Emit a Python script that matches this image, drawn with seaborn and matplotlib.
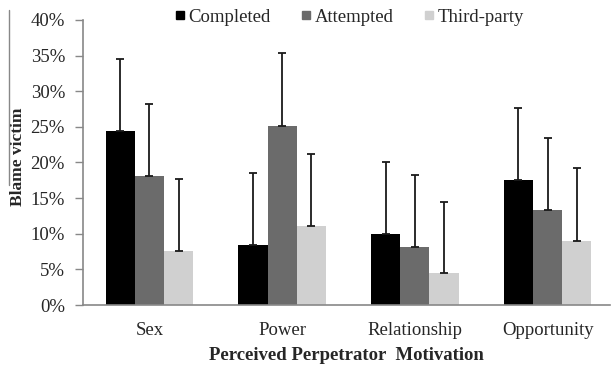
import matplotlib
matplotlib.use("Agg")
import matplotlib.pyplot as plt
import seaborn as sns
import pandas as pd
import numpy as np
from matplotlib.lines import Line2D
from matplotlib.ticker import PercentFormatter, FixedLocator

categories = ["Sex", "Power", "Relationship", "Opportunity"]
series = ["Completed", "Attempted", "Third-party"]
completed = [24.4, 8.4, 10.0, 17.5]
attempted = [18.1, 25.1, 8.1, 13.3]
third_party = [7.6, 11.1, 4.5, 9.0]
err_completed = [10.1, 10.1, 10.0, 10.2]
err_attempted = [10.1, 10.3, 10.1, 10.1]
err_third = [10.1, 10.1, 10.0, 10.2]
yticks = [0, 5, 10, 15, 20, 25, 30, 35, 40]
colors = ["#000000", "#6b6b6b", "#d0d0d0"]

rows = []
for s, vals, errs in zip(series, [completed, attempted, third_party],
                         [err_completed, err_attempted, err_third]):
    for c, v, e in zip(categories, vals, errs):
        rows.append({"motivation": c, "type": s, "value": v, "err": e})
df = pd.DataFrame(rows)

sns.set_style("white")
plt.rcParams["font.family"] = ["Liberation Serif", "DejaVu Serif"]

fig = plt.figure(figsize=(6.11, 3.67), dpi=100)
ax = fig.add_axes([83/611, 62/367, 527/611, 285/367])

sns.barplot(data=df, x="motivation", y="value", hue="type", order=categories,
            hue_order=series, palette=colors, width=0.66, errorbar=None,
            saturation=1, edgecolor="none", linewidth=0, ax=ax, legend=False)

# error bars at bar positions
for patch_group, s in zip(ax.containers, series):
    sub = df[df["type"] == s].set_index("motivation").loc[categories]
    xs = [p.get_x() + p.get_width() / 2 for p in patch_group]
    ys = sub["value"].values
    es = sub["err"].values
    ax.errorbar(xs, ys, yerr=[np.zeros_like(es), es], fmt="none",
                ecolor="#1a1a1a", elinewidth=1.3, capsize=3, capthick=1.3)

ax.set_xlim(-0.5, 3.47)
ax.set_ylim(0, 40)
ax.set_yticks(yticks)
ax.yaxis.set_major_formatter(PercentFormatter(decimals=0))
ax.xaxis.set_minor_locator(FixedLocator([0.5, 1.5, 2.5]))
ax.tick_params(axis="x", which="major", length=0, labelsize=13.5, pad=12)
ax.tick_params(axis="x", which="minor", length=5, width=1, color="#888888", direction="out")
ax.tick_params(axis="y", length=6, width=1, color="#888888", direction="out",
               labelsize=13.5, pad=7, left=True)
for sp in ["top", "right"]:
    ax.spines[sp].set_visible(False)
for sp in ["left", "bottom"]:
    ax.spines[sp].set_color("#888888")
    ax.spines[sp].set_linewidth(1.2)

ax.set_xlabel("Perceived Perpetrator  Motivation", fontsize=13.5, fontweight="bold", labelpad=6)
ax.set_ylabel("Blame victim", fontsize=12.5, fontweight="bold", labelpad=1)
ax.yaxis.set_label_coords(-0.108, 0.52)

handles = [Line2D([0], [0], marker="s", linestyle="none", markersize=6,
                  markerfacecolor=c, markeredgecolor=c) for c in colors]
fig.legend(handles, series, loc="center", bbox_to_anchor=(348/611, 1 - 17/367),
           ncol=3, frameon=False, fontsize=13.5, handletextpad=0.05,
           columnspacing=1.5, handlelength=0.8)

# thin grey line at left edge
fig.add_artist(Line2D([9/611, 9/611], [1 - 10/367, 1 - 185/367], color="#888888",
                      linewidth=1, transform=fig.transFigure))

fig.savefig("out.png", dpi=100)
